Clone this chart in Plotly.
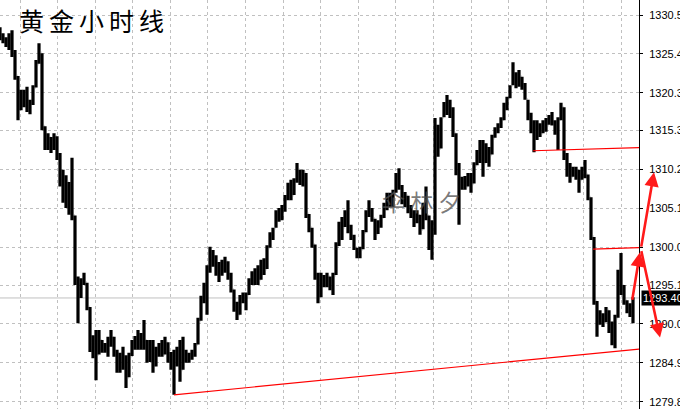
import plotly.graph_objects as go

# ---- data: gold hourly bars (prices) ----
high = [1328.9,1328.1,1327.6,1328.1,1328.5,1325.9,1322.5,1320.7,1320.7,1321.1,1319.4,1321.3,1324.6,1326.8,1325.5,1315.9,1315.0,1314.5,1315.0,1314.6,
        1312.4,1310.2,1309.5,1308.6,1311.8,1304.2,1296.2,1296.0,1296.7,1295.4,1292.2,1288.5,1289.2,1289.2,1287.9,1287.5,1288.3,1289.2,1288.3,1286.6,
        1286.2,1287.0,1285.9,1286.2,1287.9,1288.4,1289.2,1288.8,1290.5,1287.9,1287.9,1287.9,1287.0,1287.5,1287.9,1288.3,1287.6,1286.3,1286.6,1287.0,
        1287.9,1288.3,1286.6,1286.2,1286.6,1287.5,1290.8,1293.7,1295.4,1297.7,1300.1,1299.7,1299.0,1298.1,1298.4,1298.8,1298.2,1296.7,1294.5,1292.9,
        1293.8,1294.1,1294.1,1296.0,1296.9,1297.3,1297.7,1298.4,1298.6,1300.3,1302.0,1302.6,1304.9,1305.2,1305.6,1306.9,1308.5,1308.9,1309.1,1311.1,
        1310.2,1310.2,1309.8,1304.4,1302.6,1300.4,1296.7,1296.7,1296.4,1296.7,1296.2,1296.7,1300.7,1303.4,1304.0,1304.9,1306.2,1303.0,1301.7,1300.0,
        1300.1,1302.3,1304.9,1306.2,1305.2,1303.8,1303.6,1304.3,1305.9,1307.2,1307.2,1307.6,1309.8,1310.4,1308.2,1307.3,1306.8,1305.6,1304.9,1304.9,
        1304.3,1305.9,1308.0,1304.2,1303.6,1317.0,1316.1,1317.1,1319.1,1320.0,1319.4,1318.4,1315.0,1311.1,1309.3,1309.4,1309.8,1309.8,1311.2,1312.8,
        1314.1,1314.1,1313.7,1313.2,1314.8,1315.8,1316.3,1317.1,1319.0,1319.8,1321.3,1324.3,1323.0,1323.3,1322.4,1321.6,1319.4,1317.7,1316.7,1316.7,
        1316.3,1316.7,1317.0,1317.4,1317.8,1316.7,1317.1,1319.0,1318.4,1312.4,1311.1,1310.6,1310.6,1310.2,1310.6,1311.5,1309.6,1306.6,1301.4,1293.0,
        1291.8,1291.4,1292.2,1291.8,1290.3,1291.2,1297.1,1299.3,1295.1,1293.1,1292.7,1293.5]
low = [1327.2,1326.8,1326.3,1325.9,1325.0,1322.0,1316.7,1318.0,1318.4,1317.8,1317.5,1318.7,1321.0,1324.1,1315.4,1312.8,1312.8,1312.4,1312.8,1311.5,
       1308.0,1305.9,1305.2,1304.3,1303.6,1295.1,1290.1,1293.4,1295.1,1291.8,1286.3,1285.5,1282.6,1286.0,1286.2,1286.2,1285.7,1287.0,1285.7,1283.6,
       1283.6,1284.0,1281.6,1283.0,1285.8,1286.6,1286.6,1286.6,1286.6,1284.9,1285.0,1283.6,1284.4,1285.7,1285.7,1286.0,1284.9,1284.0,1280.7,1284.4,
       1282.4,1284.0,1284.9,1284.9,1285.3,1285.7,1287.3,1290.4,1292.7,1291.2,1296.7,1297.5,1296.3,1295.5,1296.3,1296.7,1295.8,1294.1,1291.6,1290.5,
       1291.2,1292.7,1291.8,1293.8,1295.1,1295.1,1295.1,1295.8,1296.4,1297.2,1300.0,1301.0,1302.6,1303.4,1303.6,1304.7,1306.2,1306.2,1306.9,1308.5,
       1308.2,1308.0,1303.9,1302.0,1300.0,1295.8,1292.7,1293.5,1294.8,1294.8,1294.4,1293.8,1296.4,1300.2,1301.0,1302.7,1301.9,1301.0,1299.7,1298.6,
       1298.6,1299.8,1302.0,1304.0,1303.4,1301.0,1301.8,1302.6,1303.9,1304.9,1305.3,1305.3,1307.2,1307.6,1305.7,1305.3,1304.5,1303.9,1302.7,1303.2,
       1301.7,1302.4,1303.6,1299.7,1298.4,1301.7,1311.9,1313.0,1317.1,1317.4,1317.0,1314.5,1309.5,1303.0,1307.6,1307.6,1308.0,1307.2,1308.4,1310.8,
       1311.1,1309.3,1311.1,1310.6,1312.2,1314.4,1315.0,1315.7,1316.7,1318.0,1319.6,1321.3,1320.9,1321.1,1320.7,1319.4,1316.7,1315.0,1312.5,1314.1,
       1314.5,1315.0,1315.2,1316.1,1316.0,1314.8,1312.8,1316.7,1311.5,1309.3,1308.5,1309.3,1308.9,1307.2,1308.9,1309.1,1306.2,1301.0,1292.5,1288.3,
       1289.9,1289.6,1290.2,1288.8,1287.2,1286.8,1290.8,1293.8,1292.5,1291.4,1290.9,1290.1]
open_ = [1328.5,1327.6,1327.2,1326.6,1327.5,1325.6,1322.5,1318.2,1320.2,1319.6,1318.3,1319.0,1321.0,1324.1,1325.5,1315.9,1313.6,1314.4,1313.0,1314.6,
         1312.0,1308.9,1306.8,1308.6,1305.0,1304.2,1295.8,1294.5,1295.6,1295.4,1292.2,1287.0,1287.8,1286.0,1287.8,1286.8,1287.2,1287.2,1288.2,1286.3,
         1284.4,1285.6,1284.8,1283.0,1285.8,1287.4,1287.0,1288.5,1287.2,1287.8,1285.6,1287.2,1284.6,1286.2,1286.8,1286.0,1287.6,1285.2,1285.8,1284.8,
         1286.5,1284.0,1286.0,1285.4,1285.9,1286.3,1287.3,1290.4,1293.2,1293.6,1297.2,1298.8,1298.0,1296.8,1297.6,1297.0,1298.2,1296.0,1294.5,1292.2,
         1291.2,1293.4,1293.0,1293.8,1295.6,1295.8,1296.8,1295.8,1297.8,1297.2,1300.0,1301.6,1302.6,1304.5,1303.8,1305.2,1306.5,1308.0,1306.9,1308.8,
         1310.2,1308.8,1309.8,1304.4,1302.6,1300.4,1296.4,1293.6,1295.8,1295.2,1296.2,1295.0,1296.4,1300.2,1302.8,1302.7,1304.4,1302.2,1301.4,1300.0,
         1299.0,1299.8,1302.0,1304.6,1305.0,1303.8,1301.8,1303.2,1304.0,1305.6,1306.8,1305.8,1307.2,1309.4,1308.0,1306.2,1306.8,1305.0,1304.4,1303.4,
         1304.2,1302.4,1305.4,1304.2,1300.4,1302.0,1315.5,1313.0,1317.1,1318.6,1318.2,1317.6,1315.0,1310.4,1308.2,1309.0,1308.0,1309.4,1308.4,1310.8,
         1312.4,1313.4,1311.1,1313.0,1312.2,1314.4,1315.4,1315.9,1316.8,1318.6,1319.6,1321.3,1322.6,1321.4,1322.4,1321.0,1319.4,1317.2,1315.6,1314.6,
         1316.2,1315.0,1316.4,1316.1,1317.0,1316.4,1315.2,1316.8,1318.4,1312.2,1310.0,1309.3,1310.2,1309.4,1308.9,1310.2,1309.6,1306.6,1301.4,1293.0,
         1290.0,1291.0,1290.2,1291.8,1289.4,1288.0,1290.8,1296.4,1295.0,1293.1,1292.0,1291.6]
close = [1327.6,1327.2,1326.6,1327.5,1325.6,1322.5,1318.2,1320.2,1319.6,1318.3,1319.0,1321.0,1324.1,1325.5,1315.9,1313.6,1314.4,1313.0,1314.6,1312.0,
         1308.9,1306.8,1308.6,1305.0,1304.2,1296.0,1294.5,1295.6,1295.4,1292.2,1287.0,1287.8,1286.0,1288.5,1286.8,1287.2,1286.2,1288.6,1286.3,1284.4,
         1285.6,1284.8,1283.0,1285.8,1287.4,1287.0,1288.5,1287.2,1288.0,1285.6,1287.2,1284.6,1286.2,1286.8,1286.0,1287.6,1285.2,1285.8,1284.8,1286.5,
         1284.0,1286.0,1285.4,1285.9,1286.3,1287.3,1290.4,1293.2,1293.6,1297.2,1298.8,1298.0,1296.8,1297.6,1297.0,1298.2,1296.0,1294.5,1292.2,1291.2,
         1293.4,1293.0,1293.8,1295.6,1295.8,1296.8,1295.8,1297.8,1297.2,1300.0,1301.6,1302.2,1304.5,1303.8,1305.2,1306.5,1308.0,1306.8,1308.8,1310.6,
         1308.8,1309.8,1304.4,1302.6,1300.4,1296.4,1293.6,1295.8,1295.2,1296.2,1295.0,1296.4,1300.2,1302.8,1301.8,1304.4,1302.2,1301.4,1300.0,1299.0,
         1299.8,1302.0,1304.6,1305.0,1303.8,1301.8,1303.2,1304.0,1305.6,1306.8,1305.8,1307.2,1309.4,1308.0,1306.2,1306.8,1305.0,1304.4,1303.4,1304.2,
         1302.4,1305.4,1304.2,1300.4,1302.0,1315.5,1313.0,1316.8,1318.6,1318.2,1317.6,1315.0,1310.4,1308.2,1309.0,1308.0,1309.4,1308.4,1310.8,1312.4,
         1313.4,1311.0,1313.0,1311.4,1314.4,1315.4,1315.9,1316.8,1318.6,1319.4,1321.0,1322.6,1321.4,1322.8,1321.0,1319.8,1317.2,1315.6,1314.6,1316.2,
         1315.0,1316.4,1315.8,1317.0,1316.4,1315.2,1316.8,1318.4,1312.2,1310.0,1309.2,1310.2,1309.4,1308.2,1310.2,1309.6,1306.6,1301.4,1293.0,1290.0,
         1291.0,1290.2,1291.8,1289.4,1288.0,1290.8,1296.4,1295.0,1293.2,1292.0,1291.6,1293.4]
hours = list(range(len(close)))

tick_vals = [1330.50, 1325.40, 1320.30, 1315.35, 1310.25, 1305.15, 1300.05, 1295.10, 1290.00, 1284.90, 1279.80]
tick_text = ["1330.50", "1325.40", "1320.30", "1315.35", "1310.25", "1305.15", "1300.05", "1295.10", "1290.00", "1284.90", "1279.80"]
last_price = 1293.40

# trend lines drawn on the chart: (start bar, start price, end bar, end price)
trend_lines = [
    (58.0, 1280.7, 213.0, 1286.7),
    (177.7, 1312.7, 213.0, 1313.1),
    (197.7, 1299.8, 213.0, 1300.0),
]
# hand-drawn arrows: head price, head x (paper), tail offset (px)
arrows = [
    (1299.4, 1.0016, -8, 49),
    (1309.9, 1.0235, -13, 76),
    (1288.2, 1.0329, -19, -88),
]

title_text = "黄\u2009金\u2009小\u2009时\u2009线"
watermark = "伞 林 夕"

fig = go.Figure()
fig.add_trace(go.Ohlc(
    x=hours, open=open_, high=high, low=low, close=close,
    increasing=dict(line=dict(color="black", width=3.2)),
    decreasing=dict(line=dict(color="black", width=3.2)),
    tickwidth=0.05, hoverinfo="skip", showlegend=False,
))

shapes = [dict(type="line", xref="paper", yref="y", x0=0, x1=1, y0=last_price, y1=last_price,
               line=dict(color="#c0c0c0", width=1), layer="below")]
for x0, y0, x1, y1 in trend_lines:
    shapes.append(dict(type="line", xref="x", yref="y", x0=x0, y0=y0, x1=x1, y1=y1,
                       line=dict(color="#ff0000", width=1.2)))

annotations = [
    dict(text=title_text, xref="paper", yref="paper", x=0.027, y=0.952, xanchor="left", yanchor="middle",
         showarrow=False, font=dict(family="Noto Sans CJK SC", size=25, color="black")),
    dict(text=watermark, xref="paper", yref="paper", x=0.66, y=0.508, xanchor="center", yanchor="middle",
         showarrow=False, font=dict(family="Noto Sans CJK SC", size=23, color="rgba(80,80,80,0.75)")),
    dict(text="1293.40", xref="paper", yref="y", x=1, y=last_price, xanchor="left", yanchor="middle",
         xshift=2, showarrow=False, bgcolor="black", borderpad=1,
         font=dict(family="Liberation Sans", size=11, color="white")),
]
for yh, xh, axp, ayp in arrows:
    annotations.append(dict(text="", xref="paper", yref="y", x=xh, y=yh, ax=axp, ay=ayp,
                            showarrow=True, arrowhead=2, arrowsize=1.1, arrowwidth=2.6,
                            arrowcolor="#ff1a1a", standoff=0))

fig.update_layout(
    width=680, height=409,
    margin=dict(l=0, r=41, t=0, b=0, autoexpand=False),
    paper_bgcolor="white", plot_bgcolor="white",
    showlegend=False,
    shapes=shapes, annotations=annotations,
    xaxis=dict(range=[0, 213], rangeslider=dict(visible=False), showticklabels=False,
               showgrid=True, gridcolor="#c0c0c0", griddash="3px,3px", gridwidth=1, automargin=False,
               tick0=6.67, dtick=12.53, zeroline=False, showline=False, ticks=""),
    yaxis=dict(side="right", range=[1278.84, 1332.47], tickvals=tick_vals, ticktext=tick_text,
               showgrid=True, gridcolor="#c0c0c0", griddash="3px,3px", gridwidth=1, automargin=False,
               showline=True, linecolor="black", linewidth=1, ticks="outside", ticklen=3,
               tickcolor="black", zeroline=False, ticklabelstandoff=4,
               tickfont=dict(family="Liberation Sans", size=11, color="black")),
)

page_css = ("document.documentElement.style.margin='0';document.documentElement.style.overflow='hidden';"
            "document.body.style.margin='0';document.body.style.padding='0';document.body.style.overflow='hidden';")
fig.write_html("out.html", post_script=page_css, config={"displayModeBar": False})
